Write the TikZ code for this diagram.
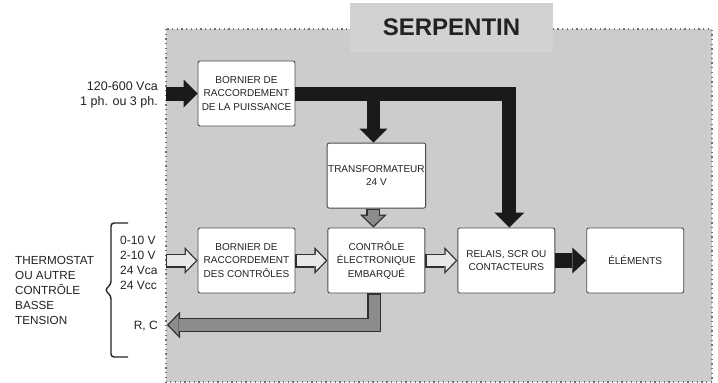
\documentclass[tikz,border=0pt]{standalone}
\usepackage{fontspec}
\setmainfont{Liberation Sans}
\usetikzlibrary{positioning,arrows.meta}

\definecolor{coilgray}{HTML}{CCCCCC}
\definecolor{titlegray}{HTML}{D1D2D4}
\definecolor{dotgray}{HTML}{707070}
\definecolor{boxline}{HTML}{4A4A4A}
\definecolor{ink}{HTML}{222222}
\definecolor{powerblack}{HTML}{1A1A1A}
\definecolor{rimdark}{HTML}{303030}
\definecolor{lowgray}{HTML}{8C8C8C}
\definecolor{signalwhite}{HTML}{E8E8E8}

% outlined fat arrow: colour, path
\newcommand{\fatarrow}[2]{%
  \draw[rim] #2;
  \draw[core, draw=#1] #2;
}

\begin{document}
\begin{tikzpicture}[x=1pt,y=-1pt,align=center,node distance=32pt]
   \tikzset{block/.style = {rectangle, draw=boxline, fill=white, rounded corners=2pt, line width=0.9pt, minimum width=97pt, minimum height=65pt, inner sep=1pt, text=ink, font=\fontsize{10}{13.3}\selectfont}, }
   \tikzset{sidetext/.style = {inner sep=0pt, text=ink, font=\fontsize{12}{15}\selectfont}, }
   \tikzset{coil/.style = {fill=coilgray, draw=dotgray, line width=1.2pt, dash pattern=on 1.3pt off 3.4pt}, }
   \tikzset{title/.style = {fill=titlegray, minimum width=203pt, minimum height=49pt, text=ink, font=\fontsize{24}{28}\selectfont\bfseries}, }
   \tikzset{power/.style = {draw=powerblack, line width=14pt, line join=miter, -{Triangle[width=28pt,length=14pt,line width=0pt]}}, }
   \tikzset{rim/.style = {draw=rimdark, line width=14pt, line join=miter, -{Triangle[width=27pt,length=13pt,line width=0pt]}}, }
   \tikzset{core/.style = {line width=11.4pt, line join=miter, shorten >=1.8pt, shorten <=1.3pt, -{Triangle[width=20.6pt,length=9.9pt,line width=0pt]}}, }
   \tikzset{brace/.style = {draw=ink, line width=1.4pt, rounded corners=3pt}, }

   \fill[white] (0,0) rectangle (718,383);
   \useasboundingbox (0,0) rectangle (718,383);

   % serpentin
   \draw[coil] (166,29) rectangle (712,382);
   \node[title] (coiltitle) at (451.5,27.5) {SERPENTIN};

   \node[block] (bpower) at (246.5,93.5) {BORNIER DE\\RACCORDEMENT\\DE LA PUISSANCE};
   \node[block] (bctrl) at (246.5,260.5) {BORNIER DE\\RACCORDEMENT\\DES CONTRÔLES};
   \node[block, right =of bctrl] (ctrl) {CONTRÔLE\\ÉLECTRONIQUE\\EMBARQUÉ};
   \node[block, above =19pt of ctrl] (trans) {TRANSFORMATEUR\\24 V};
   \node[block, right =of ctrl] (relay) {RELAIS, SCR OU\\CONTACTEURS};
   \node[block, right =31pt of relay] (heat) {ÉLÉMENTS};

   \coordinate (powerin) at (166,93.5);
   \coordinate (ctrlin) at (166,260.5);
   \coordinate (rcout) at (167,325);

   % puissance
   \draw[power] (powerin) -- (bpower.west);
   \draw[power, -{Triangle[width=30pt,length=15pt,line width=0pt]}] (bpower.east) -| ([xshift=3pt]relay.north);
   \draw[power, line width=13pt] ([xshift=-3pt]trans.north |- bpower.east) -- ([xshift=-3pt]trans.north);
   \draw[power, line width=15pt, -{Triangle[width=26pt,length=14pt,line width=0pt]}] (relay.east) -- (heat.west);

   % signaux de commande
   \fatarrow{signalwhite}{(ctrlin) -- (bctrl.west)}
   \fatarrow{signalwhite}{(bctrl.east) -- (ctrl.west)}
   \fatarrow{signalwhite}{(ctrl.east) -- (relay.west)}

   % 24 V
   \fatarrow{lowgray}{([xshift=-3pt]trans.south) -- ([xshift=-3pt]ctrl.north)}
   \fatarrow{lowgray}{([xshift=-2pt]ctrl.south) |- (rcout)}

   % textes
   \node[sidetext, anchor=east, align=right, font=\fontsize{12.5}{15}\selectfont] (mains) at (158,94.5) {120-600 Vca\\1 ph. ou 3 ph.};
   \node[sidetext, anchor=west, align=left] (signals) at (120,262.5) {0-10 V\\2-10 V\\24 Vca\\24 Vcc};
   \node[sidetext, anchor=east] (rctext) at (158,326) {R, C};
   \node[sidetext, anchor=west, align=left, font=\fontsize{11.7}{15}\selectfont] (tstat) at (15,290) {THERMOSTAT\\OU AUTRE\\CONTRÔLE\\BASSE\\TENSION};
   \draw[brace] (128,223) -- (111,223) -- (111,284) -- (105,290) -- (111,296) -- (111,357) -- (128,357);
\end{tikzpicture}
\end{document}
